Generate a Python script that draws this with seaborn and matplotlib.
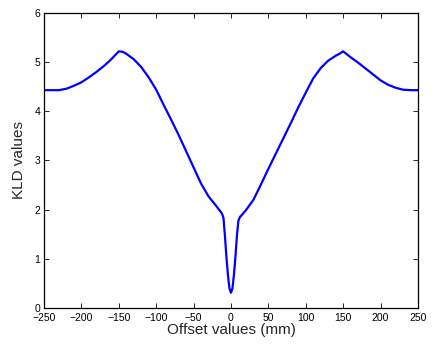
import pandas as pd
import matplotlib
matplotlib.use('Agg')
import matplotlib.pyplot as plt
import seaborn as sns

# Offset (mm) and KLD values
offset_mm = [-250, -240, -230, -220, -210, -200, -190, -180, -170, -160,
             -150, -145, -140, -130, -120, -110, -100, -90, -80, -70,
             -60, -50, -40, -30, -20, -15, -12, -10, -8, -6,
             -4, -2, 0, 2, 4, 6, 8, 10, 12, 15,
             20, 30, 40, 50, 60, 70, 80, 90, 100, 110,
             120, 130, 140, 145, 150, 160, 170, 180, 190, 200,
             210, 220, 230, 240, 250]
kld_values = [4.43, 4.43, 4.43, 4.46, 4.52, 4.59, 4.69, 4.80, 4.92, 5.06,
              5.22, 5.21, 5.17, 5.06, 4.90, 4.69, 4.44, 4.13, 3.83, 3.52,
              3.19, 2.86, 2.53, 2.27, 2.08, 1.98, 1.92, 1.83, 1.45, 1.02,
              0.66, 0.40, 0.31, 0.40, 0.68, 1.05, 1.48, 1.78, 1.85, 1.90,
              1.99, 2.20, 2.51, 2.83, 3.14, 3.45, 3.76, 4.08, 4.38, 4.67,
              4.88, 5.03, 5.13, 5.17, 5.22, 5.10, 4.99, 4.87, 4.75, 4.63,
              4.54, 4.48, 4.44, 4.43, 4.43]

df = pd.DataFrame({'offset': offset_mm, 'kld': kld_values})

sns.set_style('ticks')
plt.rcParams['font.family'] = ['Liberation Sans', 'DejaVu Sans']

fig = plt.figure(figsize=(4.34, 3.49), dpi=100)
ax = fig.add_axes([0.1014, 0.1175, 0.8616, 0.8453])
sns.lineplot(data=df, x='offset', y='kld', color='#0000ff', linewidth=1.6,
             sort=False, estimator=None, ax=ax)

ax.set_xlim(-250, 250)
ax.set_ylim(0, 6)
ax.set_xticks(range(-250, 251, 50))
ax.set_yticks(range(0, 7))
ax.tick_params(direction='in', length=3.5, width=0.6, top=True, right=True,
               labelsize=7.5, colors='black')
ax.tick_params(axis='x', pad=3.8)
ax.tick_params(axis='y', pad=2.5)
for s in ax.spines.values():
    s.set_linewidth(0.9)
    s.set_color('black')
ax.set_xlabel('Offset values (mm)', fontsize=11, labelpad=0)
ax.set_ylabel('KLD values', fontsize=11, labelpad=6)

fig.savefig('out.png', dpi=100)
